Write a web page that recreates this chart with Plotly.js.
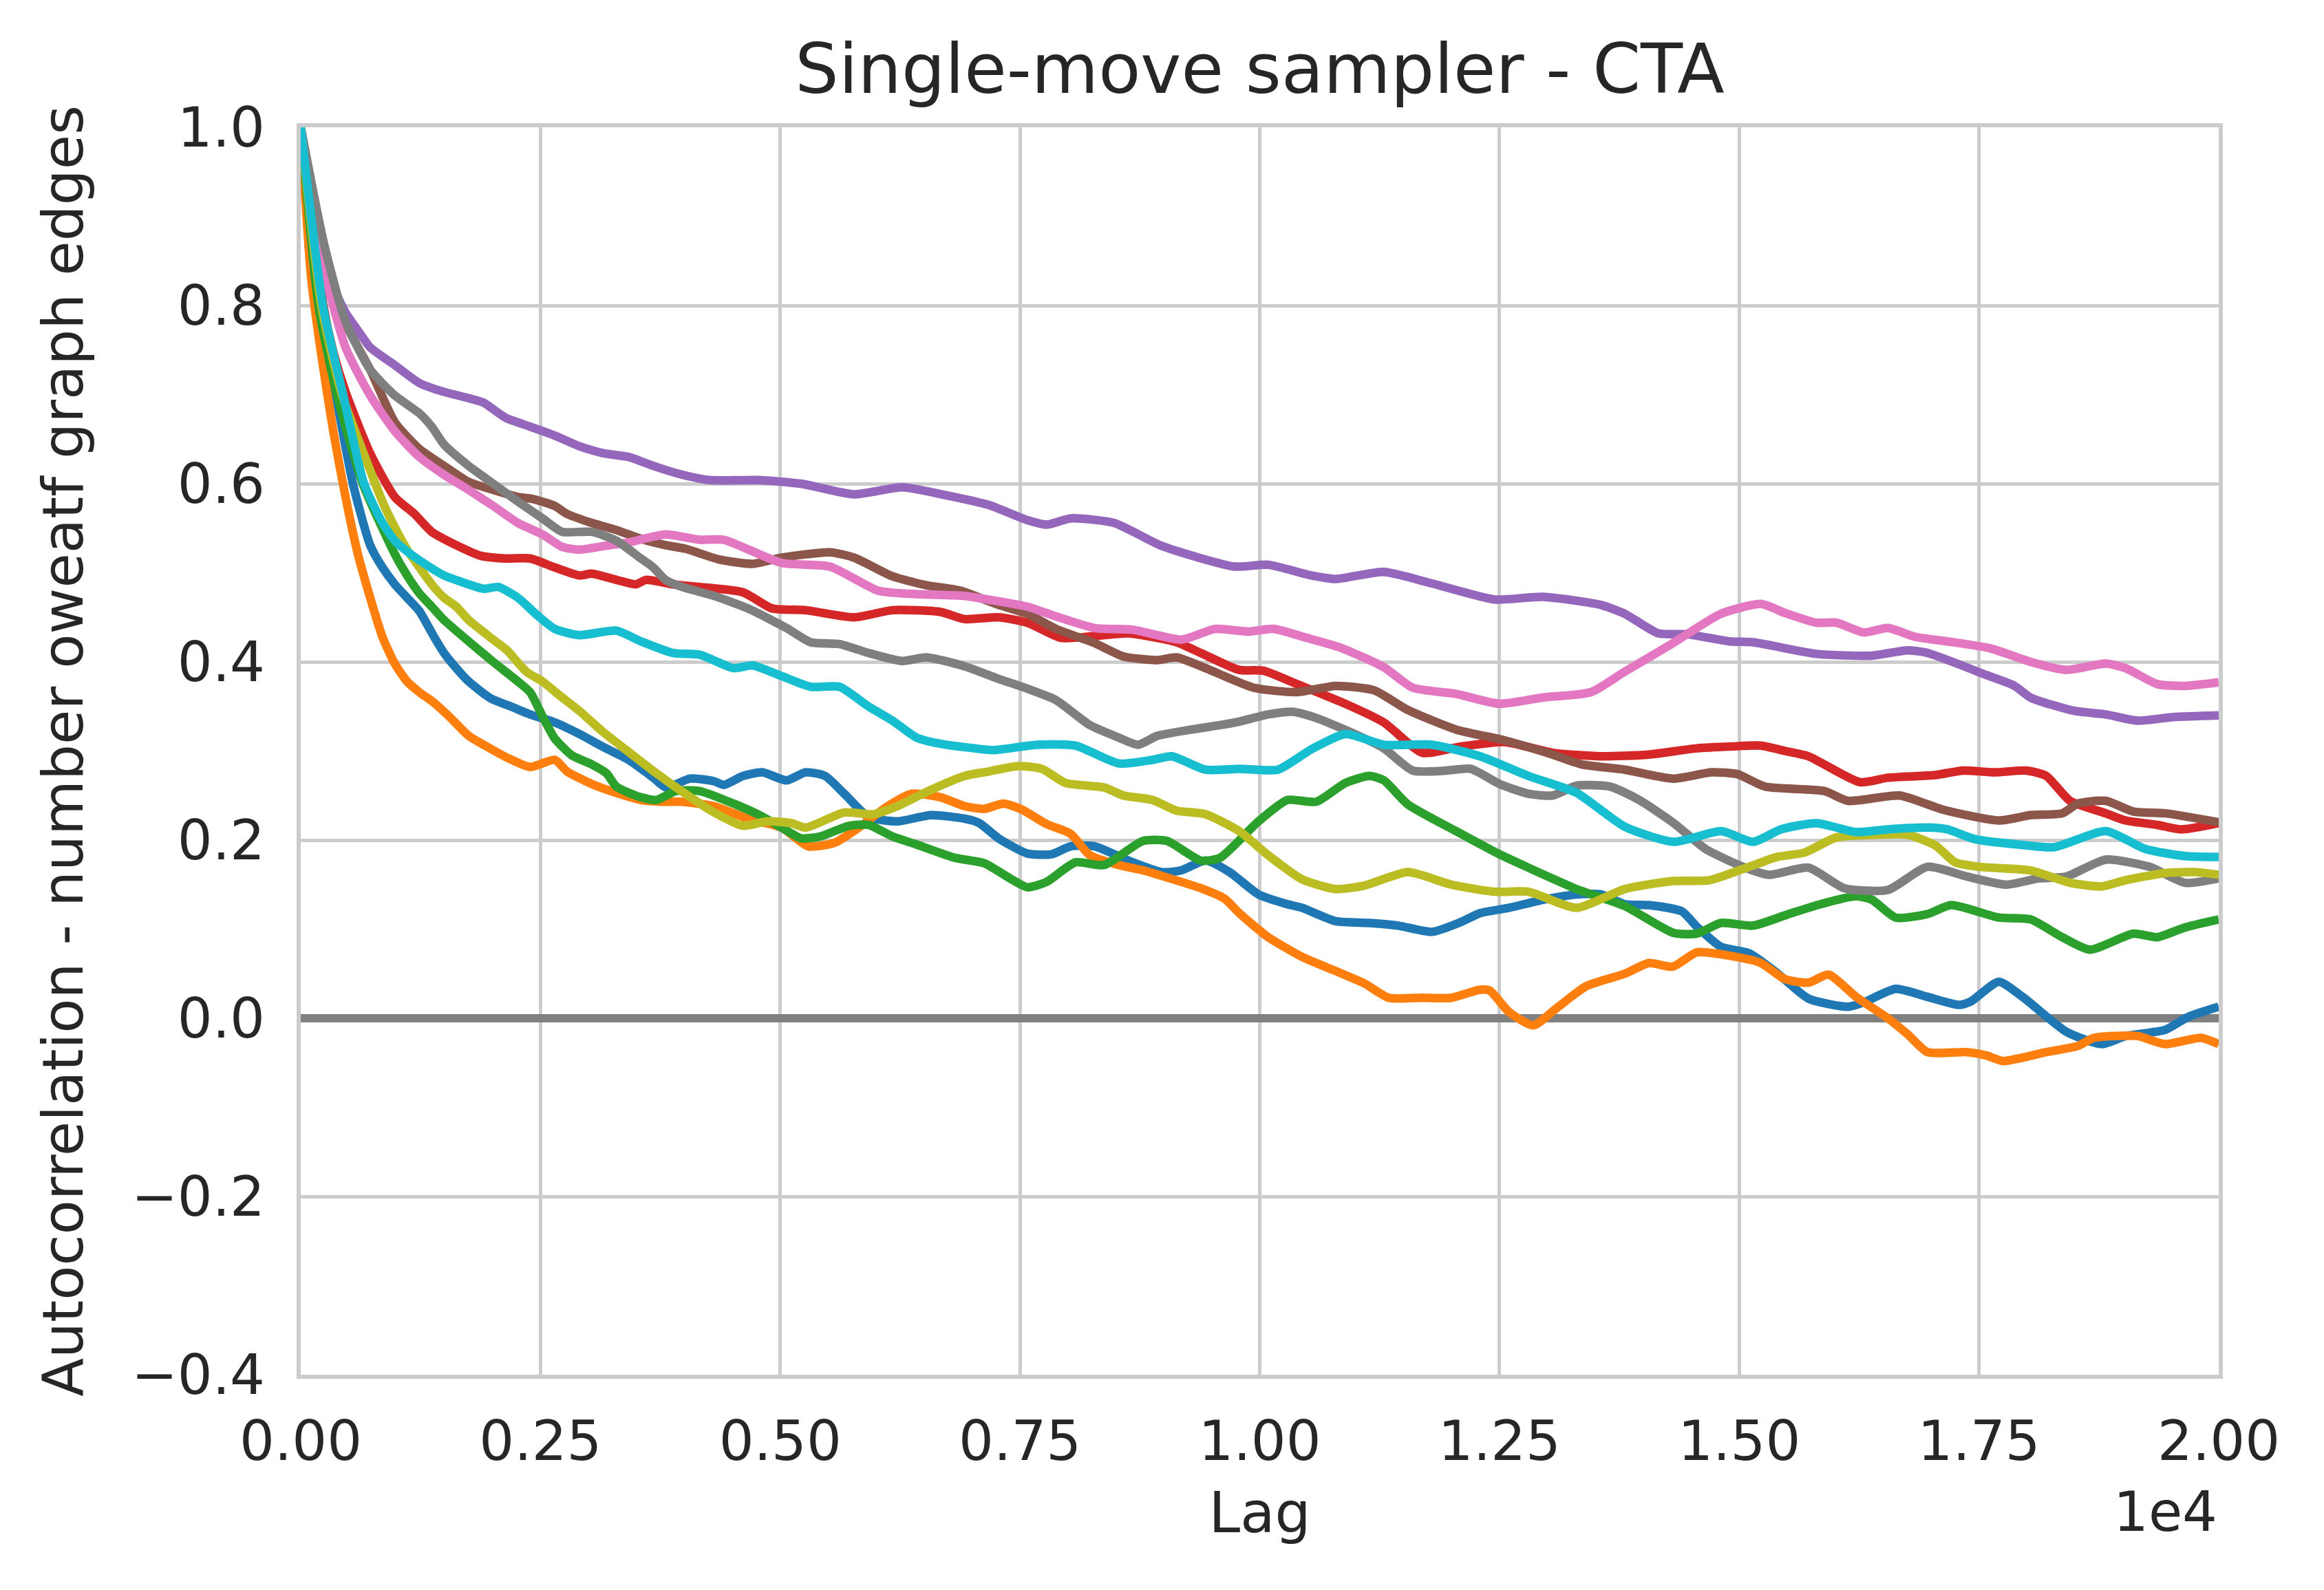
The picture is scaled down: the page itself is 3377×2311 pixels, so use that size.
<!DOCTYPE html>
<html>
<head>
<meta charset="utf-8">
<script src="https://cdn.plot.ly/plotly-3.0.1.min.js"></script>
<style>
  html, body { margin: 0; padding: 0; background: #ffffff; }
  #chart { width: 3377px; height: 2311px; }
</style>
</head>
<body>
<div id="chart"></div>
<script>
// Lag axis ticks (shown as multiples of 1e4)
const lagTicks = [0, 2500, 5000, 7500, 10000, 12500, 15000, 17500, 20000];
const lagTickText = ['0.00', '0.25', '0.50', '0.75', '1.00', '1.25', '1.50', '1.75', '2.00'];
const acfTicks = [-0.4, -0.2, 0.0, 0.2, 0.4, 0.6, 0.8, 1.0];
const acfTickText = ['\u22120.4', '\u22120.2', '0.0', '0.2', '0.4', '0.6', '0.8', '1.0'];

// Autocorrelation curves, [lag, value]
const runBlue = [[0,1],[185,0.80],[365,0.70],[544,0.60],[724,0.531],[852,0.506],[981,0.487],[1109,0.472],[1237,0.457],[1391,0.428],[1494,0.410],[1622,0.393],[1751,0.378],[1982,0.359],[2213,0.349],[2392,0.341],[2649,0.332],[2906,0.319],[3163,0.304],[3419,0.290],[3676,0.270],[3809,0.259],[4060,0.269],[4311,0.266],[4412,0.262],[4613,0.272],[4814,0.276],[5065,0.267],[5266,0.276],[5467,0.272],[5668,0.252],[5920,0.226],[6221,0.221],[6573,0.228],[6924,0.224],[7076,0.219],[7276,0.202],[7575,0.185],[7827,0.184],[8028,0.193],[8279,0.193],[8631,0.177],[8982,0.164],[9183,0.166],[9435,0.177],[9686,0.164],[9987,0.139],[10289,0.128],[10440,0.124],[10791,0.109],[11143,0.107],[11445,0.104],[11796,0.097],[12098,0.108],[12298,0.118],[12600,0.124],[12952,0.133],[13304,0.139],[13555,0.139],[13806,0.128],[14058,0.127],[14401,0.120],[14566,0.102],[14814,0.080],[15103,0.073],[15392,0.051],[15723,0.022],[16136,0.013],[16302,0.018],[16632,0.033],[16963,0.024],[17294,0.015],[17417,0.019],[17706,0.041],[17955,0.024],[18409,-0.015],[18781,-0.029],[19029,-0.020],[19442,-0.013],[19690,0.002],[20000,0.013]];
const runOrange = [[0,1],[108,0.832],[210,0.748],[339,0.659],[467,0.585],[596,0.521],[724,0.472],[852,0.428],[981,0.398],[1109,0.378],[1237,0.366],[1391,0.354],[1545,0.339],[1751,0.317],[1956,0.304],[2161,0.292],[2392,0.282],[2649,0.290],[2777,0.277],[3034,0.263],[3291,0.253],[3548,0.245],[3804,0.243],[3960,0.243],[4311,0.238],[4663,0.224],[5015,0.214],[5291,0.193],[5568,0.197],[5819,0.214],[6120,0.238],[6372,0.252],[6673,0.248],[6924,0.238],[7126,0.235],[7327,0.241],[7525,0.234],[7776,0.218],[8028,0.207],[8229,0.183],[8530,0.172],[8782,0.166],[9033,0.158],[9384,0.146],[9636,0.134],[9786,0.118],[10088,0.091],[10440,0.069],[10791,0.053],[11093,0.039],[11344,0.023],[11696,0.023],[11997,0.023],[12298,0.032],[12399,0.031],[12600,0.007],[12852,-0.008],[13103,0.012],[13404,0.036],[13806,0.050],[14058,0.062],[14309,0.058],[14560,0.074],[14962,0.069],[15227,0.062],[15475,0.044],[15723,0.040],[15930,0.049],[16219,0.024],[16550,0.0],[16756,-0.018],[16963,-0.038],[17376,-0.038],[17583,-0.042],[17748,-0.048],[18202,-0.038],[18533,-0.031],[18698,-0.022],[19153,-0.020],[19442,-0.029],[19814,-0.022],[20000,-0.029]];
const runGreen = [[0,1],[185,0.80],[377,0.70],[647,0.60],[981,0.521],[1109,0.497],[1237,0.477],[1366,0.462],[1494,0.447],[1751,0.423],[2007,0.400],[2264,0.378],[2392,0.366],[2521,0.339],[2649,0.314],[2829,0.295],[3034,0.285],[3188,0.275],[3291,0.260],[3548,0.248],[3709,0.245],[3909,0.255],[4161,0.255],[4512,0.241],[4764,0.229],[5015,0.214],[5216,0.202],[5417,0.204],[5718,0.216],[5920,0.217],[6171,0.204],[6422,0.195],[6824,0.180],[7126,0.174],[7427,0.155],[7577,0.147],[7776,0.153],[8078,0.175],[8379,0.172],[8782,0.199],[9033,0.199],[9384,0.177],[9585,0.180],[9987,0.221],[10289,0.245],[10590,0.243],[10892,0.264],[11143,0.272],[11294,0.267],[11545,0.240],[12048,0.210],[12500,0.184],[12802,0.169],[13304,0.145],[13806,0.126],[14309,0.096],[14560,0.095],[14811,0.107],[15145,0.104],[15517,0.117],[15847,0.128],[16219,0.137],[16384,0.133],[16632,0.113],[16963,0.117],[17211,0.127],[17706,0.113],[18037,0.111],[18368,0.091],[18657,0.077],[19111,0.095],[19360,0.091],[19649,0.102],[20000,0.111]];
const runRed = [[0,1],[236,0.80],[339,0.748],[467,0.703],[724,0.634],[981,0.585],[1186,0.566],[1366,0.546],[1622,0.531],[1879,0.519],[2136,0.516],[2392,0.516],[2649,0.506],[2906,0.497],[3034,0.499],[3291,0.492],[3496,0.487],[3599,0.492],[3881,0.487],[4161,0.484],[4613,0.478],[4915,0.460],[5266,0.458],[5769,0.450],[6171,0.458],[6673,0.456],[6924,0.448],[7276,0.450],[7575,0.444],[7927,0.427],[8279,0.429],[8631,0.432],[9133,0.422],[9384,0.410],[9786,0.391],[10038,0.390],[10389,0.375],[10892,0.353],[11294,0.332],[11696,0.298],[12098,0.305],[12550,0.310],[13053,0.298],[13555,0.294],[14058,0.296],[14560,0.303],[14912,0.305],[15227,0.306],[15475,0.300],[15723,0.294],[16260,0.265],[16550,0.270],[17046,0.273],[17335,0.278],[17665,0.276],[17996,0.278],[18202,0.272],[18450,0.244],[18822,0.230],[19029,0.222],[19360,0.217],[19607,0.212],[20000,0.219]];
const runPurple = [[0,1],[210,0.856],[467,0.792],[596,0.772],[724,0.753],[981,0.733],[1237,0.713],[1494,0.703],[1751,0.696],[1905,0.691],[2136,0.674],[2392,0.664],[2649,0.654],[2906,0.642],[3163,0.634],[3419,0.630],[3676,0.620],[3979,0.610],[4261,0.604],[4764,0.604],[5216,0.600],[5769,0.588],[6271,0.596],[6774,0.586],[7176,0.576],[7578,0.559],[7776,0.554],[8028,0.561],[8480,0.556],[8982,0.530],[9736,0.507],[10088,0.509],[10540,0.497],[10791,0.493],[11294,0.501],[11796,0.488],[12449,0.470],[12952,0.473],[13555,0.464],[13806,0.454],[14158,0.432],[14459,0.431],[14897,0.423],[15145,0.422],[15806,0.409],[16384,0.407],[16756,0.413],[16963,0.410],[17583,0.385],[17872,0.373],[18037,0.360],[18492,0.345],[18822,0.341],[19153,0.334],[19525,0.338],[20000,0.340]];
const runBrown = [[0,1],[250,0.86],[467,0.78],[724,0.728],[981,0.669],[1237,0.639],[1494,0.620],[1751,0.602],[2007,0.593],[2264,0.585],[2418,0.583],[2649,0.575],[2777,0.566],[3034,0.556],[3291,0.548],[3548,0.538],[3804,0.531],[4010,0.527],[4362,0.515],[4713,0.510],[5015,0.517],[5518,0.523],[5769,0.517],[6171,0.496],[6523,0.486],[6874,0.480],[7276,0.464],[7575,0.454],[7877,0.437],[8279,0.421],[8580,0.406],[8932,0.402],[9133,0.405],[9435,0.393],[9937,0.371],[10389,0.366],[10791,0.373],[11193,0.368],[11545,0.346],[12048,0.324],[12550,0.312],[13053,0.296],[13354,0.285],[13806,0.279],[14309,0.269],[14711,0.276],[14979,0.274],[15269,0.260],[15888,0.255],[16136,0.244],[16673,0.250],[17128,0.234],[17706,0.222],[18037,0.228],[18368,0.230],[18533,0.241],[18822,0.244],[19111,0.232],[19442,0.230],[20000,0.220]];
const runPink = [[0,1],[200,0.86],[467,0.753],[724,0.699],[981,0.659],[1237,0.630],[1494,0.610],[1751,0.593],[2007,0.575],[2264,0.556],[2521,0.543],[2726,0.529],[2906,0.526],[3163,0.530],[3419,0.534],[3804,0.543],[4161,0.537],[4412,0.537],[5015,0.511],[5518,0.507],[6020,0.480],[6422,0.476],[6924,0.474],[7276,0.468],[7575,0.462],[7877,0.451],[8279,0.438],[8681,0.436],[9183,0.425],[9535,0.437],[9887,0.434],[10138,0.437],[10490,0.427],[10842,0.416],[11294,0.394],[11595,0.371],[12048,0.364],[12500,0.353],[12952,0.360],[13454,0.366],[13806,0.389],[14309,0.421],[14811,0.454],[15227,0.465],[15475,0.455],[15806,0.444],[16012,0.444],[16302,0.433],[16550,0.438],[16839,0.428],[17170,0.423],[17624,0.415],[18037,0.400],[18409,0.391],[18822,0.398],[19029,0.393],[19360,0.375],[19649,0.373],[20000,0.377]];
const runGray = [[0,1],[241,0.870],[467,0.782],[724,0.728],[981,0.699],[1237,0.679],[1366,0.664],[1494,0.644],[1751,0.620],[2007,0.600],[2264,0.580],[2521,0.561],[2726,0.546],[3034,0.546],[3291,0.536],[3548,0.516],[3676,0.506],[3804,0.492],[3979,0.484],[4311,0.474],[4663,0.460],[5065,0.438],[5317,0.422],[5618,0.420],[5920,0.410],[6271,0.401],[6523,0.405],[6924,0.395],[7276,0.381],[7575,0.370],[7877,0.357],[8229,0.329],[8530,0.315],[8731,0.307],[8932,0.317],[9284,0.324],[9585,0.329],[9786,0.333],[10088,0.341],[10339,0.344],[10590,0.337],[10992,0.319],[11294,0.303],[11595,0.278],[11947,0.278],[12198,0.280],[12500,0.263],[12802,0.252],[13053,0.250],[13304,0.261],[13656,0.260],[13957,0.245],[14318,0.219],[14649,0.190],[15062,0.169],[15310,0.161],[15723,0.169],[16095,0.146],[16550,0.144],[16963,0.170],[17376,0.159],[17789,0.150],[18120,0.157],[18409,0.159],[18822,0.178],[19277,0.170],[19649,0.152],[20000,0.157]];
const runOlive = [[0,1],[215,0.80],[430,0.70],[724,0.615],[852,0.580],[981,0.551],[1109,0.526],[1237,0.506],[1366,0.487],[1494,0.472],[1622,0.462],[1751,0.447],[2007,0.425],[2151,0.413],[2352,0.389],[2521,0.378],[2703,0.362],[2905,0.345],[3156,0.321],[3407,0.300],[3658,0.279],[4010,0.252],[4311,0.231],[4613,0.216],[4864,0.221],[5116,0.219],[5266,0.214],[5668,0.231],[5970,0.229],[6221,0.238],[6523,0.254],[6924,0.272],[7176,0.277],[7477,0.283],[7726,0.280],[7977,0.264],[8379,0.259],[8580,0.250],[8882,0.245],[9133,0.233],[9435,0.229],[9786,0.210],[10088,0.183],[10440,0.156],[10791,0.145],[11093,0.149],[11545,0.164],[11997,0.150],[12449,0.142],[12802,0.142],[13304,0.124],[13806,0.145],[14309,0.154],[14690,0.155],[15103,0.170],[15392,0.181],[15682,0.186],[16012,0.203],[16425,0.206],[16756,0.206],[17046,0.194],[17252,0.175],[17500,0.170],[18037,0.166],[18450,0.152],[18781,0.148],[19029,0.155],[19442,0.163],[19773,0.164],[20000,0.161]];
const runCyan = [[0,1],[230,0.80],[441,0.70],[660,0.60],[852,0.556],[981,0.536],[1109,0.524],[1237,0.514],[1494,0.497],[1751,0.487],[1905,0.482],[2059,0.484],[2264,0.472],[2469,0.452],[2649,0.437],[2906,0.430],[3291,0.435],[3548,0.423],[3881,0.410],[4161,0.408],[4512,0.393],[4713,0.396],[5015,0.384],[5317,0.372],[5618,0.372],[5920,0.350],[6171,0.334],[6422,0.315],[6673,0.308],[7025,0.303],[7226,0.301],[7676,0.307],[8078,0.306],[8530,0.286],[8882,0.290],[9083,0.294],[9435,0.279],[9786,0.280],[10188,0.279],[10540,0.302],[10892,0.319],[11294,0.307],[11796,0.307],[12298,0.294],[12800,0.272],[13304,0.253],[13806,0.215],[14318,0.198],[14814,0.210],[15145,0.198],[15434,0.212],[15806,0.219],[16219,0.209],[16550,0.212],[16963,0.214],[17170,0.212],[17459,0.201],[17996,0.194],[18285,0.192],[18822,0.210],[19235,0.190],[19649,0.182],[20000,0.181]];

const runs = [runBlue, runOrange, runGreen, runRed, runPurple, runBrown, runPink, runGray, runOlive, runCyan];
const runColors = ['#1f77b4', '#ff7f0e', '#2ca02c', '#d62728', '#9467bd',
                   '#8c564b', '#e377c2', '#7f7f7f', '#bcbd22', '#17becf'];

const textColor = '#262626';
const font = 'DejaVu Sans, Liberation Sans, sans-serif';

// one line per run, in matplotlib's drawing order
const traces = runs.map(function (run, i) {
    return {
        x: run.map(p => p[0]),
        y: run.map(p => p[1]),
        type: 'scatter',
        mode: 'lines',
        line: { color: runColors[i], width: 12.5, shape: 'spline', smoothing: 0.6 },
        hoverinfo: 'skip'
    };
});

const layout = {
    width: 3377,
    height: 2311,
    margin: { l: 437, r: 153, t: 185, b: 313 },
    paper_bgcolor: '#ffffff',
    plot_bgcolor: '#ffffff',
    showlegend: false,
    font: { family: font, color: textColor, size: 82 },
    title: {
        text: 'Single-move sampler - CTA',
        font: { family: font, size: 100, color: textColor },
        x: 0.5, xref: 'paper', xanchor: 'center',
        y: 1 - 100 / 2311, yref: 'container', yanchor: 'middle'
    },
    xaxis: {
        range: [0, 20000],
        tickvals: lagTicks,
        ticktext: lagTickText,
        tickfont: { size: 80, color: textColor },
        ticks: '',
        ticklabelstandoff: 22,
        showgrid: true,
        gridcolor: '#cccccc',
        gridwidth: 5,
        zeroline: false,
        showline: true,
        linecolor: '#cccccc',
        linewidth: 6,
        mirror: true,
        title: { text: 'Lag', font: { size: 82, color: textColor }, standoff: 32 }
    },
    yaxis: {
        range: [-0.4, 1.0],
        tickvals: acfTicks,
        ticktext: acfTickText,
        tickfont: { size: 80, color: textColor },
        ticks: '',
        ticklabelstandoff: 30,
        showgrid: true,
        gridcolor: '#cccccc',
        gridwidth: 5,
        zeroline: true,
        zerolinecolor: '#808080',
        zerolinewidth: 12,
        showline: true,
        linecolor: '#cccccc',
        linewidth: 6,
        mirror: true,
        title: {
            text: 'Autocorrelation - number oweatf graph edges',
            font: { size: 82, color: textColor },
            standoff: 45
        }
    },
    annotations: [{
        text: '1e4',
        xref: 'paper', yref: 'paper',
        x: 1, y: -0.11,
        xanchor: 'right', yanchor: 'middle',
        showarrow: false,
        font: { size: 80, color: textColor }
    }]
};

Plotly.newPlot('chart', traces, layout, { displayModeBar: false, staticPlot: true });
</script>
</body>
</html>
